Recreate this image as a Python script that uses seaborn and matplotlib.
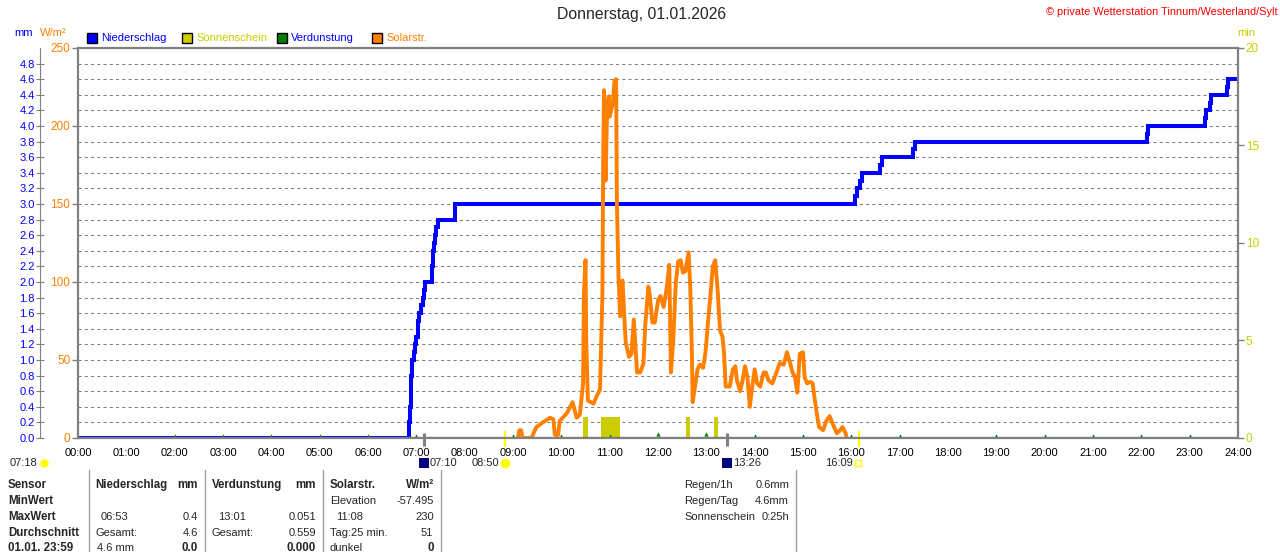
import numpy as np
import pandas as pd
import matplotlib
matplotlib.use("Agg")
import matplotlib.pyplot as plt
from matplotlib.patches import Rectangle
from matplotlib.lines import Line2D
import seaborn as sns

# ------------------------------
# data (01.01.2026)
# ------------------------------
rain_time = ["00:00", "06:51", "06:52", "06:53", "06:55", "06:57", "06:58", "07:00", "07:02",
             "07:03", "07:06", "07:08", "07:10", "07:11", "07:19", "07:21", "07:22", "07:23",
             "07:25", "07:27", "07:48", "16:05", "16:07", "16:11", "16:13", "16:36", "16:38",
             "17:17", "17:19", "22:07", "22:08", "23:19", "23:20", "23:25", "23:26", "23:46",
             "23:48", "24:00"]
rain_mm = [0.0, 0.2, 0.4, 0.8, 1.0, 1.1, 1.2, 1.3, 1.5,
           1.6, 1.7, 1.8, 1.9, 2.0, 2.2, 2.4, 2.5, 2.6,
           2.7, 2.8, 3.0, 3.1, 3.2, 3.3, 3.4, 3.5, 3.6,
           3.7, 3.8, 3.9, 4.0, 4.1, 4.2, 4.3, 4.4, 4.5,
           4.6, 4.6]

solar_time = ["09:06", "09:08", "09:10", "09:12", "09:23", "09:29", "09:37", "09:46", "09:50",
              "09:52", "09:56", "09:58", "10:07", "10:14", "10:19", "10:23", "10:27", "10:28",
              "10:30", "10:31", "10:33", "10:40", "10:44", "10:48", "10:51", "10:52", "10:53",
              "10:55", "10:57", "10:59", "11:00", "11:04", "11:06", "11:08", "11:09", "11:11",
              "11:13", "11:16", "11:18", "11:20", "11:24", "11:27", "11:30", "11:34", "11:38",
              "11:42", "11:44", "11:48", "11:50", "11:53", "11:56", "12:00", "12:03", "12:07",
              "12:11", "12:14", "12:16", "12:19", "12:22", "12:25", "12:28", "12:31", "12:34",
              "12:38", "12:40", "12:42", "12:43", "12:46", "12:49", "12:52", "12:56", "12:59",
              "13:02", "13:05", "13:08", "13:11", "13:14", "13:17", "13:20", "13:22", "13:24",
              "13:29", "13:33", "13:36", "13:38", "13:42", "13:45", "13:48", "13:51", "13:54",
              "13:57", "14:00", "14:03", "14:07", "14:11", "14:14", "14:17", "14:22", "14:27",
              "14:31", "14:36", "14:40", "14:44", "14:47", "14:50", "14:53", "14:56", "15:00",
              "15:02", "15:05", "15:09", "15:12", "15:14", "15:17", "15:20", "15:25", "15:29",
              "15:33", "15:37", "15:42", "15:46", "15:49", "15:53", "15:54"]
solar_w = [0, 5, 5, 0, 0, 7, 10, 13, 12,
           2, 2, 11, 16, 23, 13, 15, 35, 93,
           114, 61, 24, 22, 27, 31, 93, 180, 223,
           165, 215, 219, 206, 215, 229, 230, 150, 103,
           78, 101, 79, 61, 52, 54, 76, 42, 42,
           48, 71, 97, 91, 74, 74, 88, 91, 84,
           97, 111, 42, 63, 99, 113, 114, 106, 107,
           119, 97, 56, 23, 33, 44, 47, 45, 55,
           74, 91, 110, 114, 95, 69, 65, 54, 33,
           33, 44, 46, 37, 30, 37, 46, 39, 20,
           33, 44, 35, 33, 42, 42, 37, 35, 42,
           48, 47, 55, 48, 42, 39, 29, 54, 55,
           39, 35, 36, 35, 27, 16, 7, 5, 11,
           14, 9, 3, 5, 7, 3, 0]

sun_start = ["10:27", "10:49", "12:35", "13:09"]
sun_end = ["10:33", "11:13", "12:40", "13:14"]
sun_min = [1.1, 1.1, 1.1, 1.1]

evap_time = ["02:00", "03:00", "04:00", "05:00", "06:00", "07:00", "09:00", "10:00", "11:00", "12:00",
             "13:00", "14:00", "15:00", "16:00", "17:00", "19:00", "20:00", "21:00", "22:00", "23:00"]
evap_mm = [0.024, 0.025, 0.025, 0.026, 0.024, 0.027, 0.022, 0.026, 0.030, 0.046,
           0.051, 0.030, 0.028, 0.026, 0.024, 0.022, 0.023, 0.024, 0.025, 0.031]

moon_events = ["07:10", "13:26"]
sun_events = ["08:50", "16:09"]

hour_labels = [f"{h:02d}:00" for h in range(25)]

BLUE = "#0000ff"
ORANGE = "#ff8000"
OLIVE = "#cccc00"
GREEN = "#008000"
GRAY = "#808080"


def to_h(times):
    return (pd.to_timedelta([t + ":00" for t in times]) / pd.Timedelta(hours=1)).to_numpy()


rain = pd.DataFrame({"h": to_h(rain_time), "mm": rain_mm})
solar = pd.DataFrame({"h": to_h(solar_time), "w": solar_w})
evap = pd.DataFrame({"h": to_h(evap_time), "mm": evap_mm})
sun_h0 = to_h(sun_start)
sun_w = to_h(sun_end) - sun_h0

sns.set_style("white")
plt.rcParams["font.family"] = ["Liberation Sans", "DejaVu Sans"]

W, H = 1280, 552
fig = plt.figure(figsize=(W / 100, H / 100), dpi=100)


def fx(x):
    return x / W


def fy(y):
    return 1 - y / H


def ftxt(x, y, s, **kw):
    kw.setdefault("fontsize", 8)
    kw.setdefault("va", "center")
    fig.text(fx(x), fy(y), s, **kw)


ax = fig.add_axes([fx(78), fy(438), (1238 - 78) / W, 390 / H])
ax_mm = ax.twinx()
ax_min = ax.twinx()
ax_min.set_zorder(1)
ax_mm.set_zorder(2)
ax.set_zorder(3)
ax.patch.set_visible(False)
ax_mm.patch.set_visible(False)
ax_min.patch.set_facecolor("white")

# grid on the lowest axis: hours and every 0.2 mm (= 10 W/m2 = 0.8 min)
ax_min.set_ylim(0, 20)
ax_min.set_yticks(np.arange(0, 20.1, 5))
ax_min.set_yticks(np.arange(0.8, 20, 0.8), minor=True)
ax_min.grid(False)
ax_min.yaxis.grid(True, which="minor", color=GRAY, linestyle=(0, (3, 3)), linewidth=0.75)
ax_min.xaxis.grid(True, which="major", color=GRAY, linestyle=(0, (3, 3)), linewidth=0.75)
ax_min.tick_params(axis="y", which="minor", length=0)
ax_min.tick_params(axis="y", which="major", direction="out", length=4.5, width=1, color=GRAY,
                   labelcolor=OLIVE, labelsize=8.5, pad=1)
ax_min.bar(sun_h0, sun_min, width=sun_w, align="edge", color=OLIVE, linewidth=0)
for s in ax_min.spines.values():
    s.set_visible(False)

# precipitation + evaporation in mm
ax_mm.set_ylim(0, 5)
ax_mm.yaxis.set_ticks_position("left")
ax_mm.set_yticks(np.round(np.arange(0, 4.81, 0.2), 1))
ax_mm.set_yticklabels([f"{v:.1f}" for v in np.arange(0, 4.81, 0.2)])
ax_mm.tick_params(axis="y", direction="inout", length=5.5, width=0.8, color=GRAY,
                  labelcolor=BLUE, labelsize=8, pad=1)
for name, s in ax_mm.spines.items():
    s.set_visible(name == "left")
ax_mm.spines["left"].set_position(("outward", 27.4))
ax_mm.spines["left"].set_color(GRAY)
ax_mm.spines["left"].set_linewidth(0.8)
ax_mm.axhline(0, color=GREEN, linewidth=1.5, zorder=1.5)
sns.lineplot(data=rain, x="h", y="mm", ax=ax_mm, color=BLUE, linewidth=2.9,
             drawstyle="steps-post", estimator=None, errorbar=None, zorder=2,
             solid_capstyle="butt", solid_joinstyle="miter")
sns.scatterplot(data=evap, x="h", y="mm", ax=ax_mm, color=GREEN, marker="^", s=10,
                linewidth=0, zorder=3)
ax_mm.set_ylabel("")
ax_mm.set_xlabel("")

# solar radiation in W/m2 on top
sns.lineplot(data=solar, x="h", y="w", ax=ax, color=ORANGE, linewidth=2.8,
             estimator=None, errorbar=None, sort=False)
ax.set_ylim(0, 250)
ax.set_xlim(0, 24)
ax.set_yticks(np.arange(0, 251, 50))
ax.set_xticks(range(25))
ax.set_xticklabels(hour_labels)
ax.set_xlabel("")
ax.set_ylabel("")
ax.tick_params(axis="y", direction="out", length=4.5, width=1, color=GRAY,
               labelcolor=ORANGE, labelsize=8.5, pad=1)
ax.tick_params(axis="x", length=0, pad=7.5, labelsize=8, labelcolor="black")
for s in ax.spines.values():
    s.set_visible(True)
    s.set_color(GRAY)
    s.set_linewidth(1.6)

# sunrise / sunset and moon marks on the time axis
xt = ax.get_xaxis_transform()
for t in to_h(moon_events):
    ax.plot([t, t], [0.013, -0.02], color=GRAY, linewidth=2.2, transform=xt, clip_on=False,
            solid_capstyle="butt")
for t in to_h(sun_events):
    ax.plot([t, t], [0.018, -0.024], color="#ffff00", linewidth=1.6, transform=xt, clip_on=False,
            solid_capstyle="butt")

# title, source, units
ftxt(642, 15, "Donnerstag, 01.01.2026", ha="center", fontsize=11.3)
ftxt(1278, 12, "\u00a9 private Wetterstation Tinnum/Westerland/Sylt", ha="right",
     fontsize=7.9, color="#ff0000")
ftxt(14, 33, "mm", color=BLUE)
ftxt(40, 33, "W/m\u00b2", color=ORANGE)
ftxt(1237, 33, "min", color=OLIVE)

# legend row
legend_items = [("Niederschlag", BLUE, BLUE, 87),
                ("Sonnenschein", OLIVE, OLIVE, 182),
                ("Verdunstung", GREEN, BLUE, 277),
                ("Solarstr.", ORANGE, ORANGE, 372)]
for label, fc, tc, x0 in legend_items:
    fig.add_artist(Rectangle((fx(x0), fy(43)), 10 / W, 10 / H, transform=fig.transFigure,
                             facecolor=fc, edgecolor="black", linewidth=1))
    ftxt(x0 + 14, 38, label, color=tc)

# event row under the time axis
fig.add_artist(Line2D([fx(44)], [fy(463)], marker="o", markersize=5, color="#ffff00",
                      transform=fig.transFigure))
ftxt(10, 463, "07:18")
for x0, label in [(419, "07:10"), (722, "13:26")]:
    fig.add_artist(Rectangle((fx(x0), fy(468)), 10 / W, 10 / H, transform=fig.transFigure,
                             facecolor="#000080", edgecolor="none"))
    ftxt(x0 + 11, 463, label)
ftxt(472, 463, "08:50")
fig.add_artist(Line2D([fx(505)], [fy(463)], marker="o", markersize=6, color="#ffff00",
                      transform=fig.transFigure))
ftxt(825, 463, "16:09")
fig.add_artist(Line2D([fx(858)], [fy(463)], marker="s", markersize=4, markerfacecolor="none",
                      markeredgecolor="#ffff00", transform=fig.transFigure))

# summary table
for x0 in [89, 205, 323, 441, 796]:
    fig.add_artist(Line2D([fx(x0), fx(x0)], [fy(470), fy(552)], color="#a0a0a0", linewidth=1,
                          transform=fig.transFigure))

rows = [485, 501, 517, 533, 548]
bold = dict(fontweight="bold", fontsize=8.3)
for y, s in zip(rows, ["Sensor", "MinWert", "MaxWert", "Durchschnitt", "01.01. 23:59"]):
    ftxt(8, y, s, **bold)

ftxt(95, rows[0], "Niederschlag", **bold)
ftxt(198, rows[0], "mm", ha="right", **bold)
ftxt(101, rows[2], "06:53")
ftxt(198, rows[2], "0.4", ha="right")
ftxt(95, rows[3], "Gesamt:")
ftxt(198, rows[3], "4.6", ha="right")
ftxt(97, rows[4], "4.6 mm")
ftxt(198, rows[4], "0.0", ha="right", **bold)

ftxt(212, rows[0], "Verdunstung", **bold)
ftxt(316, rows[0], "mm", ha="right", **bold)
ftxt(218, rows[2], "13:01")
ftxt(316, rows[2], "0.051", ha="right")
ftxt(212, rows[3], "Gesamt:")
ftxt(316, rows[3], "0.559", ha="right")
ftxt(316, rows[4], "0.000", ha="right", **bold)

ftxt(330, rows[0], "Solarstr.", **bold)
ftxt(434, rows[0], "W/m\u00b2", ha="right", **bold)
ftxt(330, rows[1], "Elevation")
ftxt(434, rows[1], "-57.495", ha="right")
ftxt(336, rows[2], "11:08")
ftxt(434, rows[2], "230", ha="right")
ftxt(330, rows[3], "Tag:25 min.")
ftxt(433, rows[3], "51", ha="right")
ftxt(330, rows[4], "dunkel")
ftxt(434, rows[4], "0", ha="right", **bold)

for y, a, b in [(485, "Regen/1h", "0.6mm"), (501, "Regen/Tag", "4.6mm"),
                (517, "Sonnenschein", "0:25h")]:
    ftxt(684, y, a)
    ftxt(789, y, b, ha="right")

fig.savefig("out.png", dpi=100)
